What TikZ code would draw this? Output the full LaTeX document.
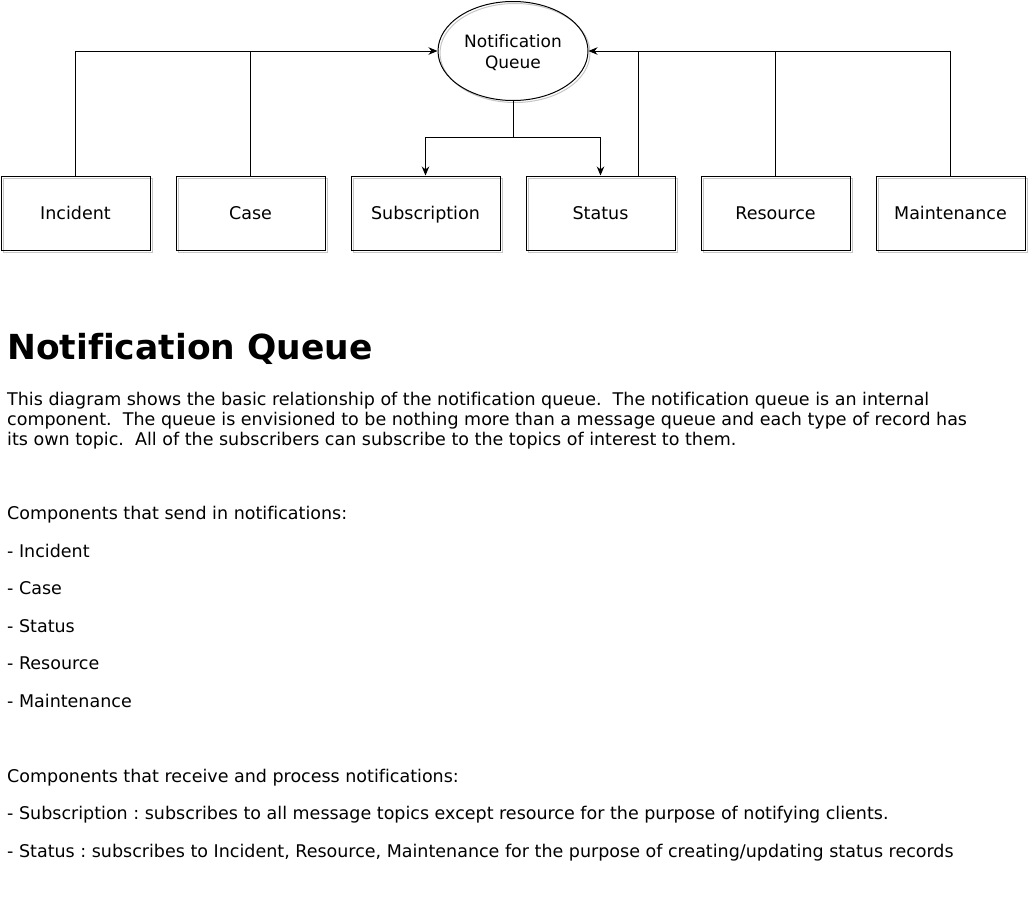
\documentclass[tikz,border=0pt]{standalone}
\usepackage{fontspec}
\setmainfont[Ligatures={NoCommon}]{DejaVu Sans}
\usetikzlibrary{arrows.meta,shapes.geometric,shadows}
\frenchspacing

\tikzset{
  compbox/.style={draw, line width=1pt, minimum width=149pt, minimum height=74pt,
    font=\fontsize{17.5}{21}\selectfont, text height=15pt, text depth=2pt,
    copy shadow={shadow xshift=2pt, shadow yshift=-2pt, draw=gray!45, line width=1pt, fill=white}},
  queuenode/.style={draw, line width=1pt, ellipse, minimum width=150pt, minimum height=99pt,
    align=center, inner sep=0pt, font=\fontsize{17}{21}\selectfont,
    copy shadow={shadow xshift=2pt, shadow yshift=-2pt, draw=gray!45, line width=1pt, fill=white}},
  link/.style={line width=1pt, draw=black},
  tip/.style={-{Stealth[length=9pt,width=7.5pt]}},
  bodytext/.style={anchor=base west, inner sep=0pt, font=\fontsize{17.5}{21}\selectfont},
}

\begin{document}
\begin{tikzpicture}[x=1pt, y=-1pt]
  \useasboundingbox (0,0) rectangle (1029,918);

  % queue
  \node[queuenode] (queue) at (513,51) {\rule{0pt}{17pt}Notification\\Queue};

  % components
  \node[compbox] (inc)  at (75.5,213)  {Incident};
  \node[compbox] (case) at (250.5,213) {Case};
  \node[compbox] (sub)  at (425.5,213) {Subscription};
  \node[compbox] (stat) at (600.5,213) {Status};
  \node[compbox] (res)  at (775.5,213) {Resource};
  \node[compbox] (mnt)  at (950.5,213) {Maintenance};

  % senders on the left
  \draw[link, tip] (inc.north) |- (queue.west);
  \draw[link] (case.north) -- (case.north |- queue.west);

  % senders on the right
  \draw[link, tip] (mnt.north) |- (queue.east);
  \draw[link] (res.north) -- (res.north |- queue.east);
  \draw[link] ([xshift=37.5pt]stat.north) -- ([xshift=37.5pt]stat.north |- queue.east);

  % receivers
  \draw[link] (queue.south) -- ++(0,36) coordinate (split);
  \draw[link, tip] (split) -| (sub.north);
  \draw[link, tip] (split) -| (stat.north);

  % description
  \node[bodytext, font=\fontsize{34.5}{40}\bfseries] (title) at (7,359) {Notification Queue};

  \node[bodytext] (par1) at (7,405) {This diagram shows the basic relationship of the notification queue.\ \ The notification queue is an internal};
  \node[bodytext] (par2) at (7,425) {component.\ \ The queue is envisioned to be nothing more than a message queue and each type of record has};
  \node[bodytext] (par3) at (7,445) {its own topic.\ \ All of the subscribers can subscribe to the topics of interest to them.};

  \node[bodytext] (send)  at (7,519) {Components that send in notifications:};
  \node[bodytext] (send1) at (7,557) {- Incident};
  \node[bodytext] (send2) at (7,594) {- Case};
  \node[bodytext] (send3) at (7,632) {- Status};
  \node[bodytext] (send4) at (7,669) {- Resource};
  \node[bodytext] (send5) at (7,707) {- Maintenance};

  \node[bodytext] (recv)  at (7,782) {Components that receive and process notifications:};
  \node[bodytext] (recv1) at (7,819) {- Subscription : subscribes to all message topics except resource for the purpose of notifying clients.};
  \node[bodytext] (recv2) at (7,857) {- Status : subscribes to Incident, Resource, Maintenance for the purpose of creating/updating status records};
\end{tikzpicture}
\end{document}
